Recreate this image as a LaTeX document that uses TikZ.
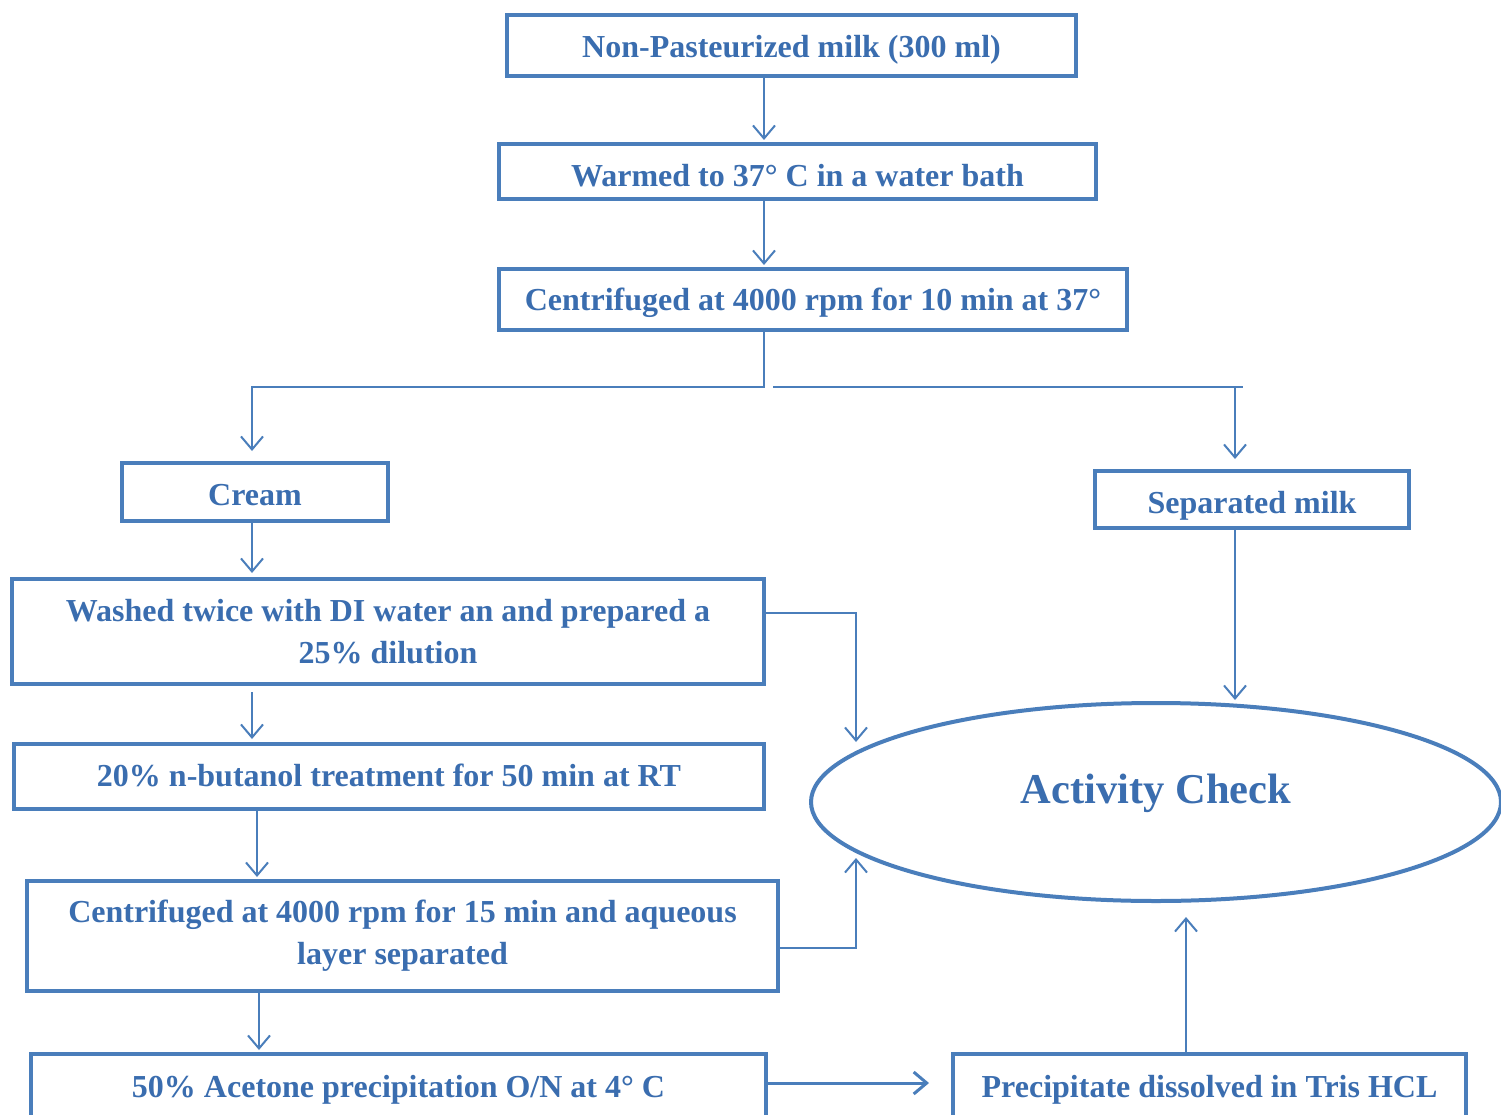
\documentclass[tikz,border=0pt]{standalone}
\usepackage{fontspec}
\setmainfont{Liberation Serif}
\usetikzlibrary{arrows.meta,shapes.geometric}
\definecolor{bblue}{HTML}{4A7EBB}
\definecolor{tblue}{HTML}{3A6DAF}
\begin{document}
\begin{tikzpicture}[x=1pt,y=-1pt,
  box/.style={draw=bblue,line width=4pt,rectangle,inner sep=0pt,text=tblue,
    font=\fontsize{32}{42}\selectfont\bfseries,align=center},
  oneline/.style={text height=#1,text depth=0pt},
  conn/.style={draw=bblue,line width=2pt},
  arr/.style={conn,-{Straight Barb[length=13pt,width=22pt]}}]
\clip (0,0) rectangle (1501,1115);
\fill[white] (0,0) rectangle (1501,1115);
% boxes
\node[box,oneline=24pt,minimum width=569pt,minimum height=61pt] (n1) at (791.5,45.5) {Non-Pasteurized milk (300 ml)};
\node[box,oneline=30pt,minimum width=597pt,minimum height=55pt] (n2) at (797.5,171.5) {Warmed to 37° C in a water bath};
\node[box,oneline=22pt,minimum width=628pt,minimum height=61pt] (n3) at (813,299.5) {Centrifuged at 4000 rpm for 10 min at 37°};
\node[box,oneline=27pt,minimum width=266pt,minimum height=58pt] (n4) at (255,492) {Cream};
\node[box,oneline=27pt,minimum width=314pt,minimum height=57pt] (n5) at (1252,499.5) {Separated milk};
\node[box,minimum width=752pt,minimum height=105pt] (n6) at (388,631.5) {Washed twice with DI water an and prepared a\\25\% dilution};
\node[box,oneline=20pt,minimum width=750pt,minimum height=65pt] (n7) at (389,776.5) {20\% n-butanol treatment for 50 min at RT};
\node[box,minimum width=751pt,minimum height=110pt] (n8) at (402.5,936) {Centrifuged at 4000 rpm for 15 min and aqueous\\layer separated};
\node[box,oneline=21pt,minimum width=735pt,minimum height=66pt] (n9) at (398.5,1087) {50\% Acetone precipitation O/N at 4° C};
\node[box,oneline=21pt,minimum width=513pt,minimum height=66pt] (n10) at (1209.5,1087) {Precipitate dissolved in Tris HCL};
\node[draw=bblue,line width=4pt,ellipse,minimum width=690pt,minimum height=198pt,inner sep=0pt,
  text=tblue,font=\fontsize{42.5}{50}\selectfont\bfseries,text height=29pt,text depth=27pt] (act) at (1156,802) {Activity Check};
% helper coordinates
\coordinate (colA) at (764,0);
\coordinate (colB) at (252,0);
\coordinate (colC) at (257,0);
\coordinate (colD) at (259,0);
\coordinate (colF) at (1235,0);
\coordinate (colG) at (1186,0);
\coordinate (rowH) at (0,387);
\coordinate (r613) at (0,613);
\coordinate (r948) at (0,948);
\coordinate (r1083) at (0,1083);
\coordinate (brs) at (773,387);
\coordinate (bre) at (1243,387);
\coordinate (t1) at (856,742);
\coordinate (t2) at (856,858);
% connectors
\draw[arr,shorten >=2pt] (n1.south -| colA) -- (n2.north -| colA);
\draw[arr,shorten >=2pt] (n2.south -| colA) -- (n3.north -| colA);
\draw[arr,shorten >=10pt] (n3.south -| colA) |- (rowH -| colB) -- (n4.north -| colB);
\draw[conn] (brs) -- (bre);
\draw[arr,shorten >=10pt] (rowH -| colF) -- (n5.north -| colF);
\draw[arr,shorten >=4pt] (n4.south -| colB) -- (n6.north -| colB);
\draw[arr,shorten <=6pt,shorten >=3pt] (n6.south -| colB) -- (n7.north -| colB);
\draw[arr,shorten >=2pt] (n7.south -| colC) -- (n8.north -| colC);
\draw[arr,shorten >=2pt] (n8.south -| colD) -- (n9.north -| colD);
\draw[arr] (n6.east |- r613) -| (t1);
\draw[arr] (n8.east |- r948) -| (t2);
\draw[arr,shorten >=1pt] (n5.south -| colF) -- (act.north -| colF);
\draw[arr,line width=3pt,shorten >=22pt] (n9.east |- r1083) -- (n10.west |- r1083);
\draw[arr,shorten >=14pt] (n10.north -| colG) -- (act.south -| colG);
\end{tikzpicture}
\end{document}
